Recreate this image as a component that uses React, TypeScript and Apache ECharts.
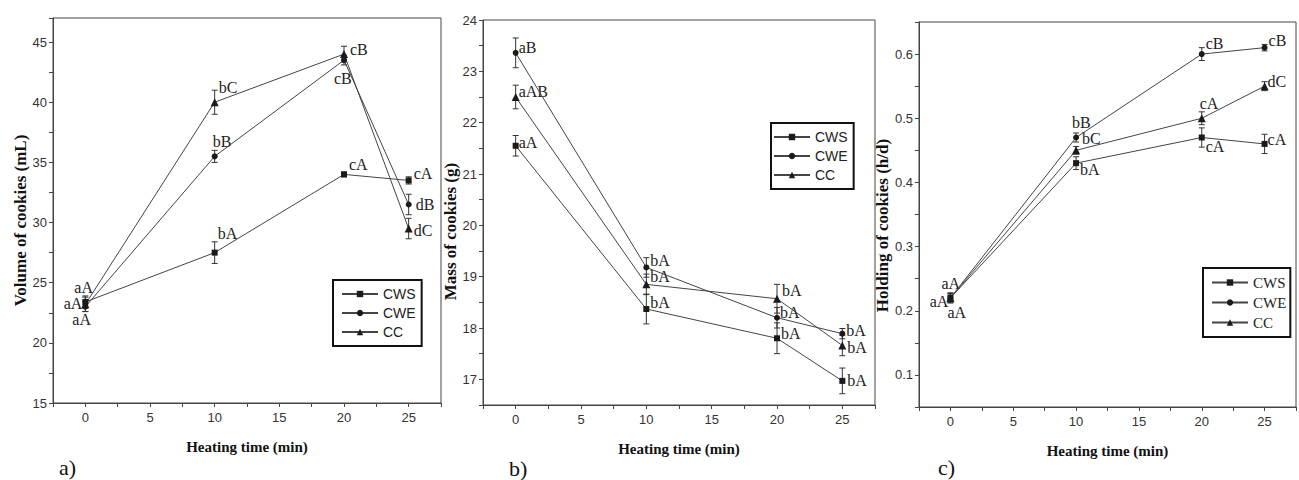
import React, { useEffect, useRef } from "react";
import * as echarts from "echarts";

// ---------- DATA ----------
const heatingTimes = [0, 10, 20, 25];
const seriesNames = ["CWS", "CWE", "CC"];

// a) Volume of cookies (mL)
const volumeCWS = [23.4, 27.5, 34.0, 33.5];
const volumeCWE = [23.0, 35.5, 43.5, 31.5];
const volumeCC = [23.2, 40.0, 44.0, 29.5];
const volumeCWSErr = [0.5, 0.9, 0.2, 0.3];
const volumeCWEErr = [0.4, 0.5, 0.4, 0.85];
const volumeCCErr = [0.6, 1.0, 0.65, 0.85];
const volumeCWSLabels = ["aA", "bA", "cA", "cA"];
const volumeCWELabels = ["aA", "bB", "cB", "dB"];
const volumeCCLabels = ["aA", "bC", "cB", "dC"];

// b) Mass of cookies (g)
const massCWS = [21.55, 18.37, 17.8, 16.97];
const massCWE = [23.36, 19.18, 18.2, 17.89];
const massCC = [22.5, 18.85, 18.57, 17.66];
const massCWSErr = [0.2, 0.29, 0.3, 0.25];
const massCWEErr = [0.29, 0.19, 0.2, 0.1];
const massCCErr = [0.23, 0.2, 0.28, 0.2];
const massCWSLabels = ["aA", "bA", "bA", "bA"];
const massCWELabels = ["aB", "bA", "bA", "bA"];
const massCCLabels = ["aAB", "bA", "bA", "bA"];

// c) Holding of cookies (h/d)
const holdCWS = [0.22, 0.43, 0.47, 0.46];
const holdCWE = [0.22, 0.47, 0.6, 0.61];
const holdCC = [0.22, 0.45, 0.5, 0.55];
const holdCWSErr = [0.008, 0.01, 0.015, 0.015];
const holdCWEErr = [0.006, 0.007, 0.01, 0.005];
const holdCCErr = [0.007, 0.006, 0.01, 0.007];
const holdCWSLabels = ["aA", "bA", "cA", "cA"];
const holdCWELabels = ["aA", "bB", "cB", "cB"];
const holdCCLabels = ["aA", "bC", "cA", "dC"];

// ---------- LAYOUT / STYLE ----------
type Off = [number, number, string];
const offA: Off[][] = [
  [[-3, 2, "right"], [3, -19, "left"], [5, -10, "left"], [5, -7, "left"]],
  [[-13, 13, "left"], [-2, -15, "left"], [-10, 18, "left"], [7, 0, "left"]],
  [[-11, -17, "left"], [4, -15, "left"], [6, -5, "left"], [5, 2, "left"]],
];
const offB: Off[][] = [
  [[3, -3, "left"], [4, -7, "left"], [4, -5, "left"], [5, 0, "left"]],
  [[3, -5, "left"], [4, -7, "left"], [3, -5, "left"], [4, -3, "left"]],
  [[3, -6, "left"], [4, -8, "left"], [5, -8, "left"], [5, 2, "left"]],
];
const offC: Off[][] = [
  [[-2, 4, "right"], [4, 6, "left"], [4, 9, "left"], [3, -4, "left"]],
  [[-3, 15, "left"], [-4, -15, "left"], [4, -11, "left"], [4, -7, "left"]],
  [[-9, -14, "left"], [6, -12, "left"], [-2, -15, "left"], [3, -5, "left"]],
];

const symbols = ["rect", "circle", "triangle"];
const symbolSizes = [6, 6, 8];
const LINE = "#444";
const INK = "#1a1a1a";
const SERIF = '"Liberation Serif", "Times New Roman", serif';
const SANS = '"Liberation Sans", Arial, sans-serif';

const grids = [
  { left: 53, top: 18, width: 388, height: 385 },
  { left: 483, top: 20, width: 392, height: 385 },
  { left: 919, top: 22, width: 389, height: 385 },
];

function makeLine(panel: number, k: number, ys: number[]) {
  return {
    type: "line",
    name: seriesNames[k],
    xAxisIndex: panel,
    yAxisIndex: panel,
    data: heatingTimes.map((x, i) => [x, ys[i]]),
    symbol: symbols[k],
    symbolSize: symbolSizes[k],
    showAllSymbol: true,
    lineStyle: { color: LINE, width: 1 },
    itemStyle: { color: INK },
    z: 4,
    silent: true,
  };
}

function makeErr(
  panel: number,
  ys: number[],
  errs: number[],
  labels: string[],
  offs: Off[]
) {
  return {
    type: "custom",
    xAxisIndex: panel,
    yAxisIndex: panel,
    data: heatingTimes.map((x, i) => [x, ys[i], errs[i]]),
    z: 3,
    silent: true,
    clip: false,
    renderItem: (params: any, api: any) => {
      const i = params.dataIndex;
      const x = api.value(0);
      const y = api.value(1);
      const e = api.value(2);
      const p = api.coord([x, y]);
      const hi = api.coord([x, y + e]);
      const lo = api.coord([x, y - e]);
      const st = { stroke: "#333", lineWidth: 1 };
      const o = offs[i];
      return {
        type: "group",
        children: [
          { type: "line", shape: { x1: hi[0], y1: hi[1], x2: lo[0], y2: lo[1] }, style: st },
          { type: "line", shape: { x1: hi[0] - 3, y1: hi[1], x2: hi[0] + 3, y2: hi[1] }, style: st },
          { type: "line", shape: { x1: lo[0] - 3, y1: lo[1], x2: lo[0] + 3, y2: lo[1] }, style: st },
          {
            type: "text",
            x: p[0] + o[0],
            y: p[1] + o[1],
            style: {
              text: labels[i],
              fill: "#222",
              fontSize: 16,
              fontFamily: SERIF,
              align: o[2],
              verticalAlign: "middle",
            },
          },
        ],
      };
    },
  };
}

function xAxis(panel: number) {
  return {
    type: "value",
    gridIndex: panel,
    min: -2.5,
    max: 27.5,
    interval: 2.5,
    name: "Heating time (min)",
    nameLocation: "middle",
    nameGap: 36,
    nameTextStyle: { fontFamily: SERIF, fontWeight: "bold", fontSize: 15, color: "#111" },
    axisLine: { show: true, onZero: false, lineStyle: { color: LINE, width: 1 } },
    axisTick: { show: true, inside: false, length: 4, lineStyle: { color: LINE } },
    axisLabel: {
      margin: 8,
      fontFamily: SANS,
      fontSize: 13,
      color: "#333",
      formatter: (v: number) => (v % 5 === 0 && v >= 0 && v <= 25 ? String(v) : ""),
    },
    splitLine: { show: false },
  };
}

function yAxis(
  panel: number,
  name: string,
  min: number,
  max: number,
  interval: number,
  fmt: (v: number) => string,
  gap: number,
  shiftDown: number
) {
  return {
    type: "value",
    gridIndex: panel,
    min,
    max,
    interval,
    name,
    nameLocation: "middle",
    nameGap: gap,
    nameTextStyle: {
      fontFamily: SERIF,
      fontWeight: "bold",
      fontSize: 17,
      color: "#111",
      padding: [0, shiftDown * 2, 0, 0],
    },
    axisLine: { show: true, onZero: false, lineStyle: { color: LINE, width: 1 } },
    axisTick: { show: true, inside: false, length: 4, lineStyle: { color: LINE } },
    axisLabel: { margin: 6, fontFamily: SANS, fontSize: 13, color: "#333", formatter: fmt },
    splitLine: { show: false },
  };
}

function legend(left: number, top: number, padding: number[], font: string, fontSize: number) {
  return {
    left,
    top,
    orient: "vertical",
    data: seriesNames,
    selectedMode: false,
    borderColor: "#111",
    borderWidth: 2,
    borderRadius: 0,
    padding,
    itemGap: 5,
    itemWidth: 36,
    itemHeight: 8,
    textStyle: { fontFamily: font, fontSize, color: "#222" },
  };
}

export default function App() {
  const ref = useRef<HTMLDivElement>(null);
  useEffect(() => {
    if (!ref.current) return;
    const chart = echarts.init(ref.current, undefined, { renderer: "svg" });
    const option = {
      animation: false,
      backgroundColor: "#fff",
      grid: grids.map((g) => ({ ...g, show: true, borderColor: LINE, borderWidth: 1, backgroundColor: "transparent", containLabel: false })),
      xAxis: [xAxis(0), xAxis(1), xAxis(2)],
      yAxis: [
        yAxis(0, "Volume of cookies (mL)", 15, 47, 2.5, (v) => (v % 5 === 0 ? String(v) : ""), 24, 10),
        yAxis(1, "Mass of cookies (g)", 16.5, 24, 0.5, (v) => (Number.isInteger(v) ? String(v) : ""), 23, 19),
        yAxis(
          2,
          "Holding of cookies (h/d)",
          0.05,
          0.65,
          0.05,
          (v) => (Math.abs(v * 10 - Math.round(v * 10)) < 1e-6 && v > 0.07 && v < 0.63 ? v.toFixed(1) : ""),
          27,
          11
        ),
      ],
      legend: [
        legend(333, 280, [7, 6, 7, 8], SANS, 14),
        legend(771, 123, [7, 6, 7, 2], SANS, 14),
        legend(1203, 268, [7, 4, 7, 8], SERIF, 15),
      ],
      graphic: [
        { type: "text", left: 59, top: 456, style: { text: "a)", fontFamily: SERIF, fontSize: 22, fill: "#111" } },
        { type: "text", left: 509, top: 457, style: { text: "b)", fontFamily: SERIF, fontSize: 22, fill: "#111" } },
        { type: "text", left: 938, top: 456, style: { text: "c)", fontFamily: SERIF, fontSize: 22, fill: "#111" } },
      ],
      series: [
        makeLine(0, 0, volumeCWS),
        makeLine(0, 1, volumeCWE),
        makeLine(0, 2, volumeCC),
        makeErr(0, volumeCWS, volumeCWSErr, volumeCWSLabels, offA[0]),
        makeErr(0, volumeCWE, volumeCWEErr, volumeCWELabels, offA[1]),
        makeErr(0, volumeCC, volumeCCErr, volumeCCLabels, offA[2]),
        makeLine(1, 0, massCWS),
        makeLine(1, 1, massCWE),
        makeLine(1, 2, massCC),
        makeErr(1, massCWS, massCWSErr, massCWSLabels, offB[0]),
        makeErr(1, massCWE, massCWEErr, massCWELabels, offB[1]),
        makeErr(1, massCC, massCCErr, massCCLabels, offB[2]),
        makeLine(2, 0, holdCWS),
        makeLine(2, 1, holdCWE),
        makeLine(2, 2, holdCC),
        makeErr(2, holdCWS, holdCWSErr, holdCWSLabels, offC[0]),
        makeErr(2, holdCWE, holdCWEErr, holdCWELabels, offC[1]),
        makeErr(2, holdCC, holdCCErr, holdCCLabels, offC[2]),
      ],
    };
    chart.setOption(option as any);
    return () => chart.dispose();
  }, []);
  return (
    <div
      ref={ref}
      style={{ position: "absolute", left: 0, top: 0, width: 1299, height: 480, overflow: "hidden" }}
    />
  );
}
